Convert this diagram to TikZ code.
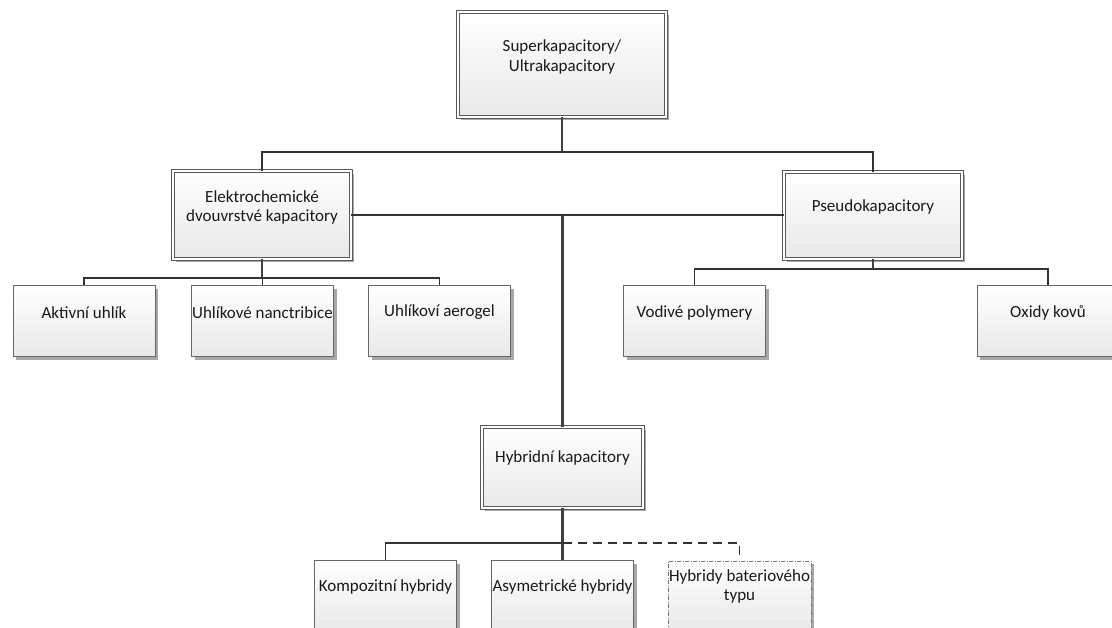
\documentclass[tikz,border=0pt]{standalone}
\usepackage{fontspec}
\setmainfont{Carlito}
\usetikzlibrary{shadows}
\tikzset{
  shadowed/.style={drop shadow={shadow xshift=3pt, shadow yshift=-3pt, fill=black!45, opacity=0.75}},
  sbox/.style={shadowed, draw=black!60, line width=1pt, top color=white, bottom color=black!9,
    minimum width=142, minimum height=71, inner sep=0pt},
  dbox/.style={shadowed, draw=black!65, line width=0.9pt, double=white, double distance=2pt,
    top color=white, bottom color=black!9, inner sep=0pt},
  hbox/.style={shadowed, draw=black!55, line width=0.8pt, dash pattern=on 4pt off 1.5pt on 1pt off 1.5pt,
    top color=white, bottom color=black!9, minimum width=143, minimum height=71, inner sep=0pt},
  lbl/.style={font=\fontsize{17}{19.5}\selectfont, align=center, inner sep=0pt, text=black!90},
  conn/.style={draw=black!80, line width=1.6pt},
  trunk/.style={draw=black!75, line width=2.4pt},
  dconn/.style={draw=black!80, line width=1.6pt, dash pattern=on 9pt off 6pt},
}
\begin{document}
\begin{tikzpicture}[x=1pt,y=-1pt]
\useasboundingbox (0,0) rectangle (1112,628);
\clip (0,0) rectangle (1112,628);
\fill[white] (0,0) rectangle (1112,628);

% boxes
\node[dbox, minimum width=208, minimum height=105] (top) at (562,64.5) {};
\node[dbox, minimum width=178, minimum height=88] (edlc) at (262,215) {};
\node[dbox, minimum width=178, minimum height=87] (pseudo) at (873,215.5) {};
\node[dbox, minimum width=161, minimum height=81] (hyb) at (562.5,467.5) {};
\node[sbox] (a1) at (84,321.5) {};
\node[sbox] (a2) at (262.5,321.5) {};
\node[sbox] (a3) at (439.5,321.5) {};
\node[sbox] (p1) at (694.5,321.5) {};
\node[sbox] (p2) at (1048,321.5) {};
\node[sbox] (h1) at (385.5,596) {};
\node[sbox] (h2) at (562.5,596) {};
\node[hbox] (h3) at (739.5,596.5) {};

% texts
\node[lbl] (ttop) at ([yshift=-45.5pt]top.north) {Superkapacitory/\\Ultrakapacitory};
\node[lbl] (tedlc) at ([yshift=-37pt]edlc.north) {Elektrochemické\\dvouvrstvé kapacitory};
\node[lbl] (tpseudo) at ([yshift=-35pt]pseudo.north) {Pseudokapacitory};
\node[lbl] (thyb) at ([yshift=-31pt]hyb.north) {Hybridní kapacitory};
\node[lbl] (ta1) at ([yshift=-27pt]a1.north) {Aktivní uhlík};
\node[lbl] (ta2) at ([yshift=-27pt]a2.north) {Uhlíkové nanctribice};
\node[lbl] (ta3) at ([yshift=-27pt]a3.north) {Uhlíkoví aerogel};
\node[lbl] (tp1) at ([yshift=-27pt]p1.north) {Vodivé polymery};
\node[lbl] (tp2) at ([yshift=-27pt]p2.north) {Oxidy kovů};
\node[lbl] (th1) at ([yshift=-27pt]h1.north) {Kompozitní hybridy};
\node[lbl] (th2) at ([yshift=-27pt]h2.north) {Asymetrické hybridy};
\node[lbl] (th3) at ([yshift=-26pt]h3.north) {Hybridy bateriového\\typu};

% connectors
\coordinate (j1) at (562,152);
\draw[trunk] (top.south) -- (j1);
\draw[conn] (j1) -| (edlc.north);
\draw[conn] (j1) -| (pseudo.north);
\draw[conn] (edlc.east) -- (edlc.east -| pseudo.west);
\draw[trunk] (edlc.east -| hyb.north) -- (hyb.north);

\coordinate (j2) at (262,278);
\draw[trunk] (edlc.south) -- (j2);
\draw[conn] (j2) -| (a1.north);
\draw[conn] (j2) -| (a2.north);
\draw[conn] (j2) -| (a3.north);

\coordinate (j3) at (873,269);
\draw[trunk] (pseudo.south) -- (j3);
\draw[conn] (j3) -| (p1.north);
\draw[conn] (j3) -| (p2.north);

\coordinate (j4) at (562.5,543);
\draw[trunk] (hyb.south) -- (j4);
\draw[conn] (j4) -| (h1.north);
\draw[trunk] (j4) -- (h2.north);
\draw[dconn] (j4) -| (h3.north);
\end{tikzpicture}
\end{document}
